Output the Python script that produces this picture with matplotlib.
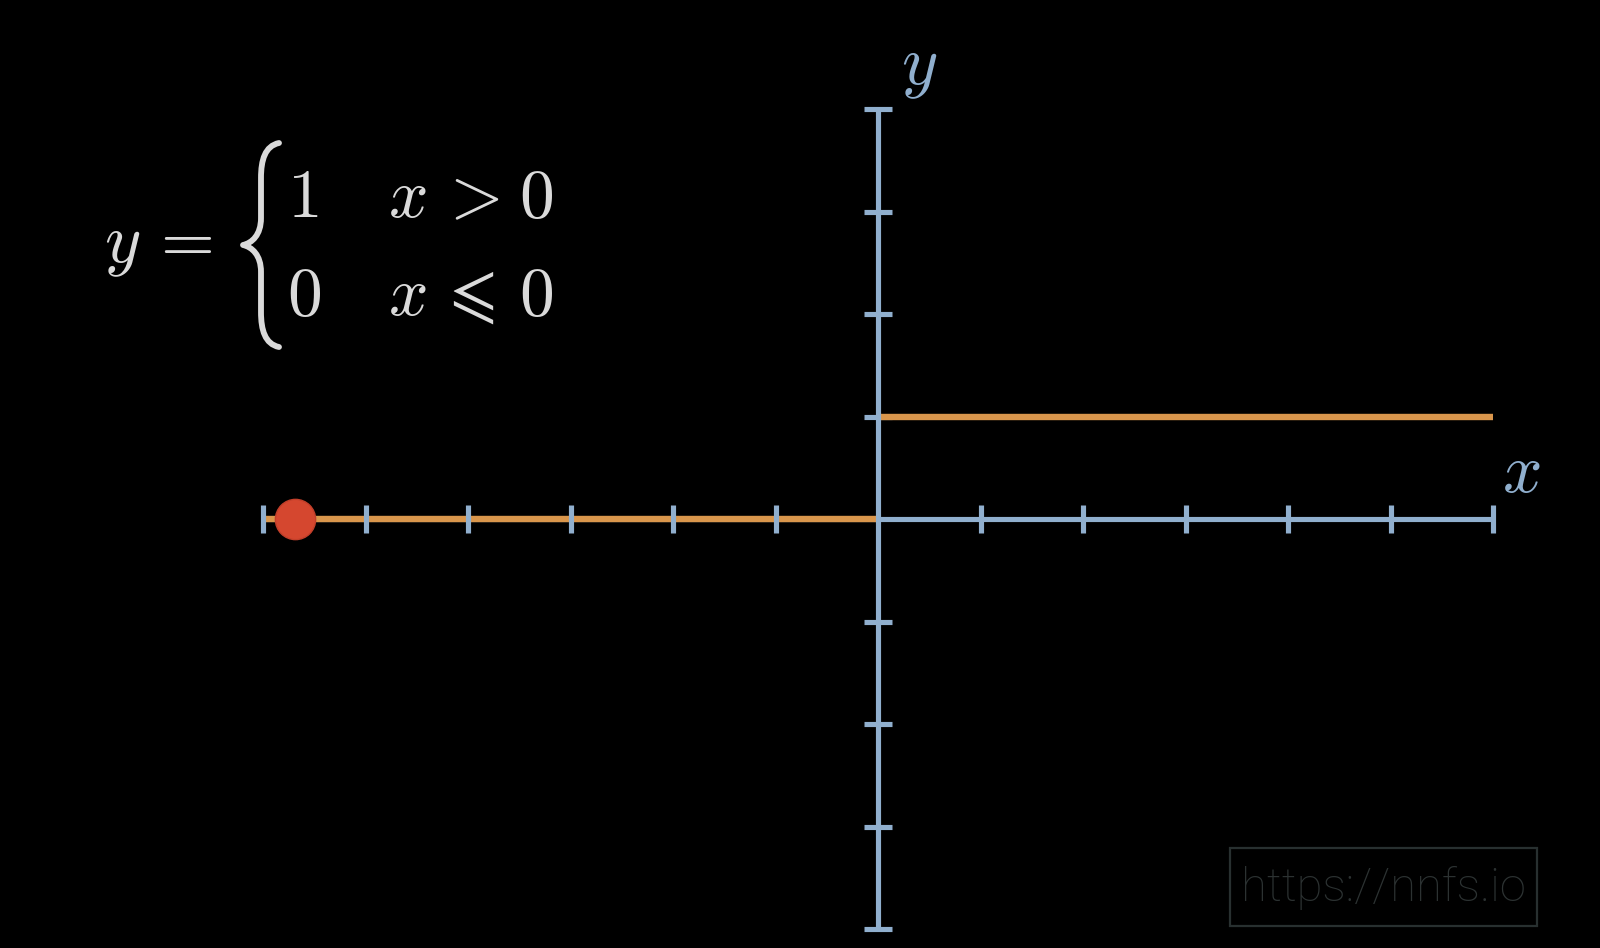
import matplotlib
matplotlib.use("Agg")
import matplotlib.pyplot as plt
from matplotlib.path import Path
from matplotlib.patches import PathPatch, Rectangle

# ---- data ----
x_ticks = [-6, -5, -4, -3, -2, -1, 1, 2, 3, 4, 5, 6]
y_ticks = [-4, -3, -2, -1, 1, 2, 3, 4]
x_range = [-6, 6]
y_range = [-4, 4]
step_neg_x = [-6, 0]
step_neg_y = [0, 0]
step_pos_x = [0, 6]
step_pos_y = [1, 1]
dot_x = [-5.69]
dot_y = [0]

AX_COL = "#90afce"
ORANGE = "#d9964c"
RED = "#d5472f"
TXT = "#dadada"

W, H = 1600, 948
OX, OY, U = 878.0, 519.0, 102.5

fig = plt.figure(figsize=(W / 100, H / 100), dpi=100, facecolor="black")
ax = fig.add_axes([0, 0, 1, 1])
ax.set_facecolor("black")
ax.set_xlim(-OX / U, (W - OX) / U)
ax.set_ylim((OY - H) / U, OY / U)
ax.axis("off")


def px2d(px, py):
    return ((px - OX) / U, (OY - py) / U)


tick_half = 14 / U
lw_axis = 3.7

# x axis line
ax.plot(x_range, [0, 0], color=AX_COL, lw=lw_axis, solid_capstyle="butt", zorder=1)
# y ticks
ax.hlines(y_ticks, -tick_half, tick_half, color=AX_COL, lw=lw_axis, zorder=1)
# step function
ax.plot(step_neg_x, step_neg_y, color=ORANGE, lw=4.6, solid_capstyle="butt", zorder=2)
ax.plot(step_pos_x, step_pos_y, color=ORANGE, lw=4.6, solid_capstyle="butt", zorder=2)
# y axis line
ax.plot([0, 0], y_range, color=AX_COL, lw=lw_axis, solid_capstyle="butt", zorder=3)
# x ticks
ax.vlines(x_ticks, -tick_half, tick_half, color=AX_COL, lw=lw_axis, zorder=3)
# dot
ax.plot(dot_x, dot_y, "o", ms=29, color=RED, mec="#c23f2a", mew=1, zorder=4)

# axis labels
ax.text(*px2d(901, 84), r"$y$", color=AX_COL, fontsize=50,
        math_fontfamily="cm", ha="left", va="baseline")
ax.text(*px2d(1502, 492), r"$x$", color=AX_COL, fontsize=50,
        math_fontfamily="cm", ha="left", va="baseline")

# formula
fs = 50
ax.text(*px2d(104, 262), r"$y\,=$", color=TXT, fontsize=fs,
        math_fontfamily="cm", ha="left", va="baseline")
ax.text(*px2d(287, 217), r"$1$", color=TXT, fontsize=fs,
        math_fontfamily="cm", ha="left", va="baseline")
ax.text(*px2d(287, 315), r"$0$", color=TXT, fontsize=fs,
        math_fontfamily="cm", ha="left", va="baseline")
ax.text(*px2d(388, 217), r"$x\,>$", color=TXT, fontsize=fs,
        math_fontfamily="cm", ha="left", va="baseline")
ax.text(*px2d(388, 315), r"$x\,\leqslant$", color=TXT, fontsize=fs,
        math_fontfamily="cm", ha="left", va="baseline")
ax.text(*px2d(519, 217), r"$0$", color=TXT, fontsize=fs,
        math_fontfamily="cm", ha="left", va="baseline")
ax.text(*px2d(519, 315), r"$0$", color=TXT, fontsize=fs,
        math_fontfamily="cm", ha="left", va="baseline")

# brace
pts_px = [
    (279, 143), (265, 146), (261, 160), (261, 178),
    (261, 218),
    (261, 235), (252, 243), (243, 245),
    (252, 247), (261, 255), (261, 272),
    (261, 312),
    (261, 330), (265, 344), (279, 347),
]
codes = [Path.MOVETO, Path.CURVE4, Path.CURVE4, Path.CURVE4,
         Path.LINETO,
         Path.CURVE4, Path.CURVE4, Path.CURVE4,
         Path.CURVE4, Path.CURVE4, Path.CURVE4,
         Path.LINETO,
         Path.CURVE4, Path.CURVE4, Path.CURVE4]
verts = [px2d(*p) for p in pts_px]
ax.add_patch(PathPatch(Path(verts, codes), fill=False, edgecolor=TXT,
                       lw=4.2, capstyle="round", joinstyle="round", zorder=5))

# watermark
x0, y0 = px2d(1230, 926)
x1, y1 = px2d(1537, 848)
ax.add_patch(Rectangle((x0, y0), x1 - x0, y1 - y0, fill=False,
                       edgecolor="#283030", lw=1.6, zorder=1))
ax.text(*px2d(1383, 888), "https://nnfs.io", color="#2c3232", fontsize=34,
        family="Roboto", fontweight="light", ha="center", va="center")

fig.savefig("out.png", dpi=100, facecolor="black")
